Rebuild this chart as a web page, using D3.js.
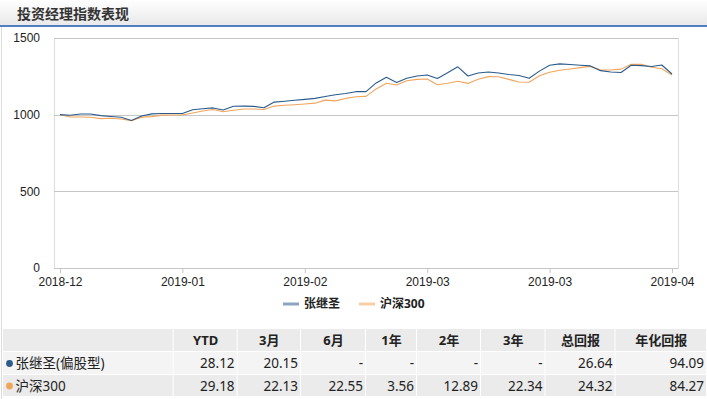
<!DOCTYPE html>
<html>
<head>
<meta charset="utf-8">
<script src="https://cdn.jsdelivr.net/npm/d3@7"></script>
<style>
  body { margin: 0; background: #fff; }
  svg { display: block; font-family: "Noto Sans", "Noto Sans CJK SC", sans-serif; }
</style>
</head>
<body>
<svg id="chart" width="707" height="399"></svg>
<script>
// chart data
const title = '投资经理指数表现';
const seriesNames = ['张继圣', '沪深300'];
const tickLabels = ['2018-12', '2019-01', '2019-02', '2019-03', '2019-03', '2019-04'];
const yTicks = [0, 500, 1000, 1500];

const managerIndex = [
  1000, 996, 1004, 1004, 994, 988, 983, 962, 991, 1005,
  1008, 1008, 1008, 1032, 1039, 1044, 1030, 1055, 1056, 1054,
  1045, 1082, 1088, 1094, 1100, 1106, 1118, 1130, 1138, 1150,
  1150, 1207, 1244, 1210, 1238, 1252, 1259, 1236, 1273, 1312,
  1252, 1272, 1278, 1272, 1262, 1255, 1238, 1284, 1322, 1331,
  1327, 1322, 1318, 1287, 1278, 1275, 1322, 1320, 1314, 1324,
  1265
];
const hs300Index = [
  1000, 985, 985, 983, 974, 977, 972, 961, 984, 987,
  997, 998, 998, 1011, 1024, 1034, 1019, 1029, 1037, 1037,
  1034, 1056, 1061, 1065, 1070, 1075, 1095, 1090, 1106, 1117,
  1119, 1168, 1205, 1193, 1221, 1230, 1233, 1195, 1205, 1218,
  1204, 1231, 1248, 1247, 1230, 1213, 1211, 1254, 1277, 1290,
  1298, 1307, 1315, 1291, 1291, 1297, 1329, 1328, 1309, 1299,
  1259
];

// table data
const rowNames = ['张继圣(偏股型)', '沪深300'];
const columns = ['YTD', '3月', '6月', '1年', '2年', '3年', '总回报', '年化回报'];
const managerReturns = ['28.12', '20.15', '-', '-', '-', '-', '26.64', '94.09'];
const hs300Returns = ['29.18', '22.13', '22.55', '3.56', '12.89', '22.34', '24.32', '84.27'];

const colors = ['#2b5b8c', '#f0a55c'];
const svg = d3.select('#chart');

// header bar
const defs = svg.append('defs');
const grad = defs.append('linearGradient').attr('id', 'hdr').attr('x1', 0).attr('y1', 0).attr('x2', 0).attr('y2', 1);
grad.append('stop').attr('offset', '0%').attr('stop-color', '#ffffff');
grad.append('stop').attr('offset', '100%').attr('stop-color', '#e9e9e9');
svg.append('rect').attr('x', 0).attr('y', 0).attr('width', 707).attr('height', 25).attr('fill', 'url(#hdr)');
svg.append('rect').attr('x', 0).attr('y', 25).attr('width', 707).attr('height', 2).attr('fill', '#4f7fbe');
svg.append('line').attr('x1', 1.5).attr('x2', 1.5).attr('y1', 27).attr('y2', 399).attr('stroke', '#dcdcdc');
svg.append('text')
  .attr('x', 17).attr('y', 19)
  .attr('font-size', 14).attr('font-weight', 'bold').attr('fill', '#333')
  .text(title);

// plot area
const plot = { left: 54, right: 678, top: 38, bottom: 268 };
const x = d3.scaleLinear().domain([0, managerIndex.length - 1]).range([plot.left + 6, plot.right - 6]);
const y = d3.scaleLinear().domain([0, 1500]).range([plot.bottom, plot.top]);
const tickStep = (managerIndex.length - 1) / (tickLabels.length - 1);

svg.append('rect')
  .attr('x', plot.left + 0.5).attr('y', plot.top + 0.5)
  .attr('width', plot.right - plot.left).attr('height', plot.bottom - plot.top)
  .attr('fill', 'none').attr('stroke', '#dedede');

svg.append('g').selectAll('line')
  .data(yTicks)
  .join('line')
  .attr('x1', plot.left).attr('x2', plot.right)
  .attr('y1', d => Math.round(y(d)) + 0.5).attr('y2', d => Math.round(y(d)) + 0.5)
  .attr('stroke', '#c6c6c6');

const yAxis = svg.append('g')
  .attr('transform', `translate(${plot.left},0)`)
  .call(d3.axisLeft(y).tickValues(yTicks).tickFormat(d3.format('d')).tickSize(0).tickPadding(14));
yAxis.select('.domain').remove();
yAxis.selectAll('text').attr('font-size', 12).attr('fill', '#222').attr('font-family', null);

const xAxis = svg.append('g')
  .attr('transform', `translate(0,${plot.bottom})`)
  .call(d3.axisBottom(x)
    .tickValues(d3.range(tickLabels.length).map(i => i * tickStep))
    .tickFormat((d, i) => tickLabels[i])
    .tickSize(5).tickPadding(4));
xAxis.select('.domain').remove();
xAxis.selectAll('line').attr('stroke', '#c6c6c6');
xAxis.selectAll('text').attr('font-size', 12).attr('fill', '#222').attr('font-family', null);

// lines (orange beneath blue)
const line = d3.line().x((d, i) => x(i)).y(d => y(d));
[hs300Index, managerIndex].forEach((values, k) => {
  svg.append('path')
    .datum(values)
    .attr('d', line)
    .attr('fill', 'none')
    .attr('stroke', colors[1 - k])
    .attr('stroke-width', 1.1)
    .attr('stroke-linejoin', 'round');
});

// legend
const legendPos = [283, 359];
const legend = svg.append('g').selectAll('g')
  .data(seriesNames)
  .join('g')
  .attr('transform', (d, i) => `translate(${legendPos[i]},304)`);
legend.append('line')
  .attr('x1', 0).attr('x2', 16)
  .attr('stroke', (d, i) => colors[i]).attr('stroke-width', 3).attr('stroke-opacity', 0.55);
legend.append('text')
  .attr('x', 21).attr('dy', '0.35em')
  .attr('font-size', 12).attr('font-weight', 'bold').attr('fill', '#222')
  .text(d => d);

// table
const colEdges = [3, 173.6, 237.6, 301, 366, 417, 481, 545.5, 615.5, 707];
const rowEdges = [329, 352, 375, 397];
const rowFills = ['#ebebeb', '#f4f4f4', '#ebebeb'];
const table = svg.append('g');

rowFills.forEach((fill, r) => {
  table.append('g').selectAll('rect')
    .data(d3.range(colEdges.length - 1))
    .join('rect')
    .attr('x', c => colEdges[c])
    .attr('y', rowEdges[r])
    .attr('width', c => colEdges[c + 1] - colEdges[c] - 1)
    .attr('height', rowEdges[r + 1] - rowEdges[r] - 1)
    .attr('fill', fill);
});

table.append('g').selectAll('text')
  .data(columns)
  .join('text')
  .attr('x', (d, i) => (colEdges[i + 1] + colEdges[i + 2]) / 2)
  .attr('y', (rowEdges[0] + rowEdges[1]) / 2)
  .attr('dy', '0.35em')
  .attr('text-anchor', 'middle')
  .attr('font-size', 13).attr('font-weight', 'bold').attr('fill', '#222')
  .text(d => d);

[managerReturns, hs300Returns].forEach((vals, r) => {
  const cy = (rowEdges[r + 1] + rowEdges[r + 2]) / 2;
  table.append('circle').attr('cx', 9.5).attr('cy', cy).attr('r', 3.4).attr('fill', colors[r]);
  table.append('text')
    .attr('x', 15.5).attr('y', cy).attr('dy', '0.35em')
    .attr('font-size', 13.5).attr('fill', '#222')
    .text(rowNames[r]);
  table.append('g').selectAll('text')
    .data(vals)
    .join('text')
    .attr('x', (d, i) => colEdges[i + 2] - 3)
    .attr('y', cy).attr('dy', '0.35em')
    .attr('text-anchor', 'end')
    .attr('font-size', 13.5).attr('fill', '#222')
    .text(d => d);
});
</script>
</body>
</html>
